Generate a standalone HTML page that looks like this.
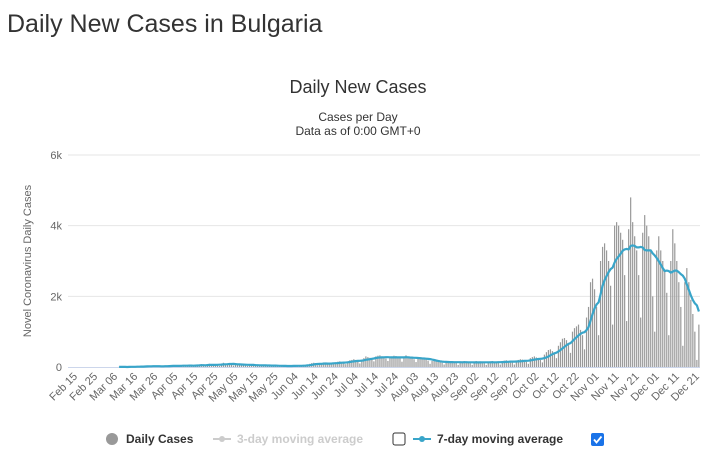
<!DOCTYPE html>
<html><head><meta charset="utf-8"><style>
body{margin:0;width:717px;height:473px;background:#fff;overflow:hidden;font-family:"Liberation Sans",sans-serif}
h1{position:absolute;left:7px;top:10px;margin:0;font-weight:normal;font-size:25px;color:#333}
</style></head><body>
<h1>Daily New Cases in Bulgaria</h1>
<svg id="c" width="717" height="473" style="position:absolute;left:0;top:0">
<text x="358" y="93" text-anchor="middle" font-size="18" fill="#333">Daily New Cases</text>
<text x="358" y="121" text-anchor="middle" font-size="12" fill="#333">Cases per Day</text>
<text x="358" y="135" text-anchor="middle" font-size="12" fill="#333">Data as of 0:00 GMT+0</text>
<text transform="translate(31,261) rotate(-90)" text-anchor="middle" font-size="11" fill="#666">Novel Coronavirus Daily Cases</text>
<g id="grid"></g><g id="bars"></g><g id="line"></g><g id="xt"></g>
<g font-size="12" font-weight="bold">
<g><circle cx="112" cy="439" r="6" fill="#999"/><text x="126" y="443" fill="#333">Daily Cases</text></g>
<g><line x1="213" y1="439" x2="231" y2="439" stroke="#ccc" stroke-width="2"/><circle cx="222" cy="439" r="3" fill="#ccc"/><text x="237" y="443" fill="#ccc">3-day moving average</text></g>
<rect x="393" y="433" width="12" height="12" rx="2" fill="#fff" stroke="#333"/>
<g><line x1="413" y1="439" x2="431" y2="439" stroke="#39a5c9" stroke-width="2"/><circle cx="422" cy="439" r="3" fill="#39a5c9"/><text x="437" y="443" fill="#333">7-day moving average</text></g>
<g><rect x="591" y="433" width="13" height="13" rx="2" fill="#1a73e8"/><path d="M594 439.5l2.5 3 5-6" stroke="#fff" stroke-width="1.8" fill="none"/></g>
</g>
</svg>
<script>
const startDate = "2020-03-08";
const dailyCases = [4,0,2,1,0,16,8, 10,10,12,11,14,22,19, 38,22,22,17,20,20,16, 13,34,40,25,30,45,32, 28,16,47,40,50,42,30, 52,22,25,50,70,60,80, 40,20,65,90,70,60,75, 60,30,100,120,90,80,110, 70,40,60,80,70,75,80, 50,30,55,60,65,45,50, 30,20,40,60,50,45,40, 30,15,25,35,40,30,40, 20,10,30,45,40,50,35, 30,25,60,70,90,110,120, 90,50,80,100,130,120,110, 90,70,110,130,150,160,140, 120,80,160,190,200,220,200, 150,100,210,250,300,280,260, 230,160,300,320,330,300,290, 240,170,280,300,320,310,290, 250,150,290,330,300,280,260, 220,140,260,280,270,250,230, 180,90,170,190,180,160,150, 120,70,150,170,160,150,140, 120,60,150,160,170,150,130, 110,60,140,170,150,160,140, 110,60,150,160,170,150,140, 120,70,170,180,190,170,160, 130,70,180,200,220,210,190, 150,90,250,280,300,270,240, 200,130,350,420,480,500,450, 380,250,600,700,800,820,760, 650,400,1000,1100,1150,1200,1050, 900,500,1400,1700,2400,2500,2200, 1700,900,3000,3400,3500,3300,3000, 2300,1200,4000,4100,4000,3800,3600, 2600,1300,3900,4800,4100,3700,3300, 2600,1400,3800,4300,4000,3700,3300, 2000,1000,3300,3700,3300,3000,2700, 2100,900,3000,3900,3500,3000,2400, 1700,600,2400,2800,2400,1900,1500, 1000,200,1200];
const yTicks = [0,2000,4000,6000];
const yTickLabels = ["0","2k","4k","6k"];
const xTickLabels = ["Feb 15","Feb 25","Mar 06","Mar 16","Mar 26","Apr 05","Apr 15","Apr 25","May 05","May 15","May 25","Jun 04","Jun 14","Jun 24","Jul 04","Jul 14","Jul 24","Aug 03","Aug 13","Aug 23","Sep 02","Sep 12","Sep 22","Oct 02","Oct 12","Oct 22","Nov 01","Nov 11","Nov 21","Dec 01","Dec 11","Dec 21"];
const NS="http://www.w3.org/2000/svg";
const axisStart=new Date("2020-02-15T00:00:00Z");
const dayPx=2.006, x0=75;
const xs=d=>x0+d*dayPx;
const ys=v=>367-v*(212/6000);
const offset=Math.round((new Date(startDate+"T00:00:00Z")-axisStart)/864e5);
function mk(tag,attrs,parent){const e=document.createElementNS(NS,tag);for(const k in attrs)e.setAttribute(k,attrs[k]);parent.appendChild(e);return e;}
const grid=document.getElementById('grid');
yTicks.forEach((t,i)=>{
  if(i>0){const l=mk('line',{x1:68,x2:700,y1:ys(t),y2:ys(t),stroke:'#e6e6e6'},grid);
  
  }
  const tx=mk('text',{x:62,y:ys(t)+4,'text-anchor':'end','font-size':11,fill:'#666'},grid);
  tx.textContent=yTickLabels[i];
  
  
});
const ax=mk('line',{x1:68,x2:700,y1:367.5,y2:367.5,stroke:'#ccd6eb'},grid);


const bars=document.getElementById('bars');
dailyCases.forEach((v,i)=>{
  const x=xs(offset+i);
  const r=mk('rect',{x:x-0.6,y:ys(v),width:1.2,height:367-ys(v),fill:'#999'},bars);
  
  
});
let pts=[];
dailyCases.forEach((v,i)=>{const s=dailyCases.slice(Math.max(0,i-6),i+1);const a=s.reduce((p,c)=>p+c,0)/s.length;pts.push(xs(offset+i).toFixed(1)+','+ys(a).toFixed(1));});
const pl=mk('polyline',{points:pts.join(' '),fill:'none',stroke:'#39a5c9','stroke-width':2.2,'stroke-linejoin':'round'},document.getElementById('line'));


const xt=document.getElementById('xt');
xTickLabels.forEach((lab,i)=>{
  const x=xs(i*10);
  const t=mk('text',{transform:`translate(${x+3},${377}) rotate(-45)`,'text-anchor':'end','font-size':11,fill:'#666'},xt);
  t.textContent=lab;
  
  
});
</script>
</body></html>
